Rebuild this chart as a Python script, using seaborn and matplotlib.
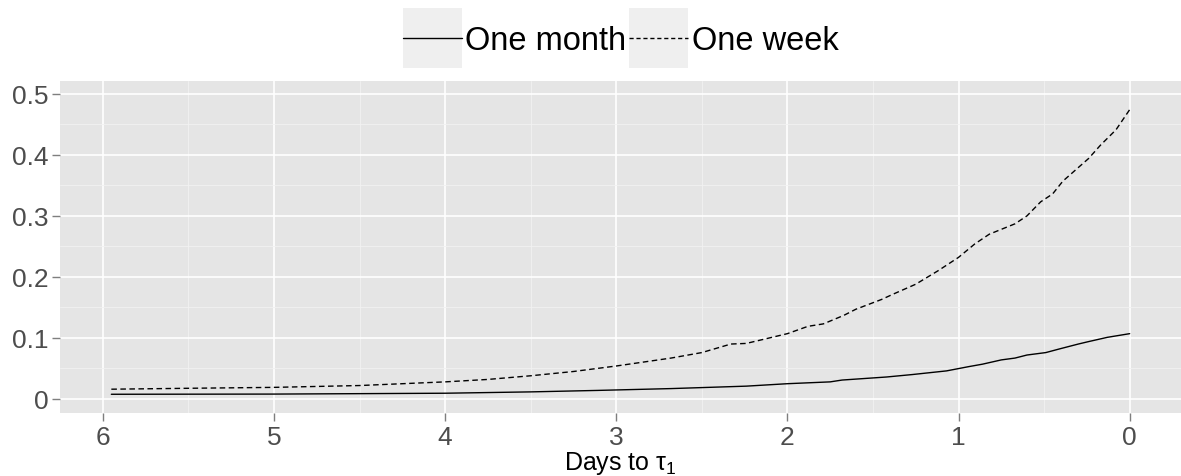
import numpy as np
import pandas as pd
import matplotlib
matplotlib.use("Agg")
import matplotlib.pyplot as plt
import seaborn as sns
from matplotlib.legend_handler import HandlerLine2D
from matplotlib.patches import Rectangle
from matplotlib.lines import Line2D
from matplotlib.ticker import MultipleLocator, FuncFormatter

# ---- data ----
series_names = ["One month", "One week"]

month_days = [5.95, 5.0, 4.0, 3.5, 3.11, 2.68, 2.24, 2.0, 1.75, 1.68, 1.42, 1.27,
              1.07, 0.94, 0.86, 0.75, 0.67, 0.60, 0.49, 0.41, 0.30, 0.24, 0.13, 0.0]
month_vals = [0.0077, 0.008, 0.0094, 0.0116, 0.014, 0.017, 0.021, 0.025, 0.028, 0.031,
              0.036, 0.040, 0.046, 0.053, 0.057, 0.064, 0.067, 0.072, 0.076, 0.082,
              0.090, 0.094, 0.101, 0.107]

week_days = [5.95, 5.5, 5.0, 4.5, 4.0, 3.75, 3.5, 3.25, 3.0, 2.68, 2.5, 2.33, 2.24, 2.0,
             1.88, 1.79, 1.67, 1.6, 1.45, 1.38, 1.25, 1.12, 1.0, 0.905, 0.82, 0.67,
             0.60, 0.52, 0.45, 0.39, 0.24, 0.17, 0.08, 0.0]
week_vals = [0.016, 0.0175, 0.019, 0.022, 0.028, 0.032, 0.038, 0.045, 0.054, 0.067,
             0.076, 0.090, 0.091, 0.107, 0.119, 0.123, 0.137, 0.147, 0.163, 0.172,
             0.188, 0.210, 0.232, 0.254, 0.270, 0.287, 0.300, 0.323, 0.336, 0.357,
             0.394, 0.416, 0.441, 0.474]

x_ticks = [6, 5, 4, 3, 2, 1, 0]
y_ticks = [0, 0.1, 0.2, 0.3, 0.4, 0.5]
x_label = r"Days to $\tau_1$"

df = pd.concat([
    pd.DataFrame({"days": month_days, "value": month_vals, "series": series_names[0]}),
    pd.DataFrame({"days": week_days, "value": week_vals, "series": series_names[1]}),
], ignore_index=True)

# ---- style ----
sns.set_theme(style="darkgrid")
plt.rcParams["font.family"] = ["Liberation Sans", "DejaVu Sans"]
plt.rcParams["mathtext.fontset"] = "custom"
plt.rcParams["mathtext.rm"] = "Liberation Sans"
plt.rcParams["mathtext.it"] = "Liberation Sans"

fig = plt.figure(figsize=(11.81, 4.77), dpi=100)
ax = fig.add_axes([60 / 1181, 1 - 414 / 477, 1 - 60 / 1181, (414 - 82) / 477])
ax.set_facecolor("#E5E5E5")

dashes = {"One month": "", "One week": (4, 2.5)}
sns.lineplot(data=df, x="days", y="value", style="series", dashes=dashes,
             color="black", linewidth=1.0, sort=False, ax=ax, legend=False)

ax.set_xlim(6.25, -0.3)
ax.set_ylim(-0.023, 0.521)
ax.set_xticks(x_ticks)
ax.set_yticks(y_ticks)
ax.xaxis.set_minor_locator(MultipleLocator(0.5))
ax.yaxis.set_minor_locator(MultipleLocator(0.05))
ax.yaxis.set_major_formatter(FuncFormatter(lambda v, p: "0" if abs(v) < 1e-9 else f"{v:.1f}"))
ax.xaxis.set_major_formatter(FuncFormatter(lambda v, p: f"{int(round(v))}"))

ax.grid(which="major", color="white", linewidth=1.2)
ax.grid(which="minor", color="#F2F2F2", linewidth=0.6)
ax.set_axisbelow(True)
for s in ax.spines.values():
    s.set_visible(False)

ax.tick_params(axis="both", which="major", length=5.5, width=1, color="#7F7F7F",
               labelsize=19, labelcolor="#4D4D4D", pad=3, direction="out")
ax.tick_params(axis="both", which="minor", length=0)
ax.tick_params(axis="x", bottom=True)
ax.tick_params(axis="y", left=True)
ax.set_xlabel(x_label, fontsize=18, labelpad=0, color="black")
ax.set_ylabel("")

KEY_BOX_PT = 60 * 72 / 100   # key background height (60 px) in points
KEY_SHIFT_PT = 6 * 72 / 100  # move key (box + line) down relative to label


class KeyHandler(HandlerLine2D):
    def create_artists(self, legend, orig_handle, xdescent, ydescent, width, height,
                       fontsize, trans):
        yc = (height - ydescent) / 2.0 - KEY_SHIFT_PT
        rect = Rectangle((-xdescent, yc - KEY_BOX_PT / 2), width, KEY_BOX_PT,
                         facecolor="#EFEFEF", edgecolor="none", transform=trans)
        arts = list(super().create_artists(legend, orig_handle, xdescent, ydescent, width,
                                           height, fontsize, trans))
        for a in arts:
            yd = np.asarray(a.get_ydata(), dtype=float)
            a.set_ydata(np.full_like(yd, yc))
        return [rect] + arts


handles = [Line2D([], [], color="black", lw=1.0, linestyle="-"),
           Line2D([], [], color="black", lw=1.0, dashes=(3, 2))]
panel_cx = (60 + 1181) / 2 / 1181
leg = fig.legend(handles, series_names, loc="center",
                 bbox_to_anchor=(panel_cx, 1 - 39 / 477),
                 ncol=2, frameon=False, fontsize=23.5, handlelength=1.81, handleheight=1.8,
                 handletextpad=0.1, columnspacing=0.1, borderpad=0, borderaxespad=0,
                 handler_map={Line2D: KeyHandler(marker_pad=0.18)})
for t in leg.get_texts():
    t.set_color("black")

fig.savefig("out.png", dpi=100)
